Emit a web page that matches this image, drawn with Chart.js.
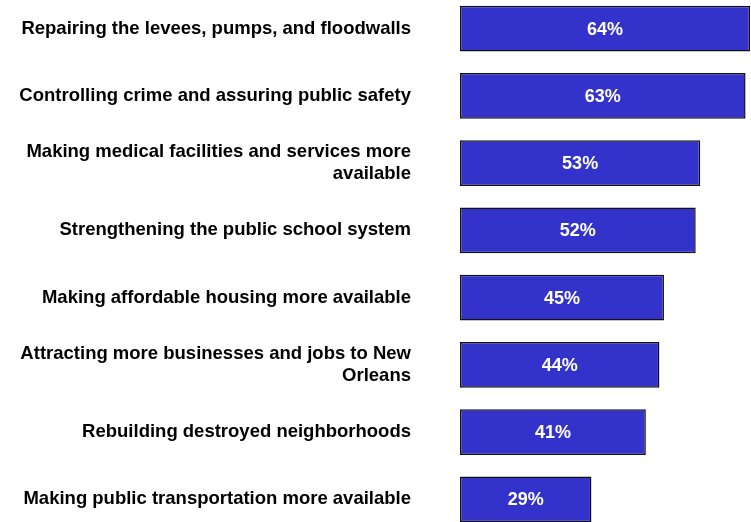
<!DOCTYPE html>
<html>
<head>
<meta charset="utf-8">
<script src="https://cdn.jsdelivr.net/npm/chart.js@4.4.1/dist/chart.umd.min.js"></script>
<style>
  html, body { margin: 0; padding: 0; background: #fff; overflow: hidden; }
  #wrap { position: absolute; left: 0; top: -5px; width: 751px; height: 538px; }
</style>
</head>
<body>
<div id="wrap"><canvas id="priorityChart" width="751" height="538"></canvas></div>
<script>
const categories = [
    'Repairing the levees, pumps, and floodwalls',
    'Controlling crime and assuring public safety',
    ['Making medical facilities and services more', 'available'],
    'Strengthening the public school system',
    'Making affordable housing more available',
    ['Attracting more businesses and jobs to New', 'Orleans'],
    'Rebuilding destroyed neighborhoods',
    'Making public transportation more available'
];
const values = [64, 63, 53, 52, 45, 44, 41, 29];

const FONT = "'Liberation Sans', Arial, sans-serif";

// white percentage text centred in each bar
const barValueLabels = {
    id: 'barValueLabels',
    afterDatasetsDraw(chart) {
        const ctx = chart.ctx;
        const meta = chart.getDatasetMeta(0);
        ctx.save();
        ctx.fillStyle = '#ffffff';
        ctx.font = 'bold 18px ' + FONT;
        ctx.textAlign = 'center';
        ctx.textBaseline = 'middle';
        meta.data.forEach((bar, i) => {
            ctx.fillText(values[i] + '%', (bar.base + bar.x) / 2, bar.y + 1);
        });
        ctx.restore();
    }
};

new Chart(document.getElementById('priorityChart'), {
    type: 'bar',
    data: {
        labels: categories,
        datasets: [{
            data: values,
            backgroundColor: '#3333cc',
            borderColor: '#111111',
            borderWidth: 1.5,
            borderSkipped: false,
            categoryPercentage: 1,
            barPercentage: 0.677
        }]
    },
    options: {
        indexAxis: 'y',
        responsive: false,
        animation: false,
        layout: { padding: 0 },
        plugins: {
            legend: { display: false },
            tooltip: { enabled: false }
        },
        scales: {
            x: {
                display: false,
                min: 0,
                max: 64.2
            },
            y: {
                grid: { display: false, drawTicks: false },
                border: { display: false },
                afterFit: (scale) => {
                    // fixed label column; no extra top/bottom space from tick padding
                    scale.width = 460;
                    scale.paddingTop = 0;
                    scale.paddingBottom = 0;
                },
                ticks: {
                    color: '#000000',
                    padding: 49,
                    font: { family: FONT, size: 18.5, weight: 'bold', lineHeight: 1.2 }
                }
            }
        }
    },
    plugins: [barValueLabels]
});
</script>
</body>
</html>
